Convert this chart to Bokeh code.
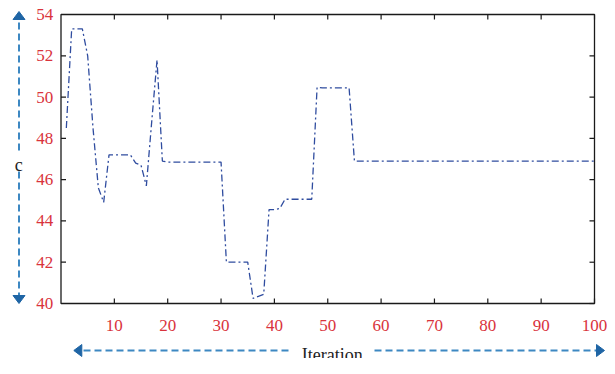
from bokeh.plotting import figure
from bokeh.models import Range1d, ColumnDataSource
from bokeh.core.properties import value
from bokeh.embed import file_html
from bokeh.resources import INLINE

# ---- data ----
iteration = list(range(1, 101))
c_values = [48.5, 53.3, 53.3, 53.3, 52.0, 48.5, 45.6, 44.9, 47.2, 47.2,
            47.2, 47.2, 47.2, 46.8, 46.7, 45.7, 48.8, 51.8, 46.9, 46.85,
            46.85, 46.85, 46.85, 46.85, 46.85, 46.85, 46.85, 46.85, 46.85, 46.85,
            42.0, 42.0, 42.0, 42.0, 42.0, 40.25, 40.35, 40.45, 44.55, 44.55,
            44.6, 45.05, 45.05, 45.05, 45.05, 45.05, 45.05, 50.47, 50.45, 50.45,
            50.45, 50.45, 50.45, 50.45] + [46.9] * 46
x_limits = [0, 100]
y_limits = [40, 54]
x_ticks = [10, 20, 30, 40, 50, 60, 70, 80, 90, 100]
x_tick_labels = ["10", "20", "30", "40", "50", "60", "70", "80", "90", "100"]
y_ticks = [40, 42, 44, 46, 48, 50, 52, 54]
y_tick_labels = ["40", "42", "44", "46", "48", "50", "52", "54"]
x_label = "Iteration"
y_label = "c"

# ---- layout (canvas pixels, origin top-left) ----
W, H = 607, 358
FX0, FX1 = 60.5, 594.0     # frame left / right
FY1, FY0 = 14.0, 303.0     # frame top / bottom
sx = (FX1 - FX0) / (x_limits[1] - x_limits[0])
sy = (FY0 - FY1) / (y_limits[1] - y_limits[0])

def X(cx):
    return x_limits[0] + (cx - FX0) / sx

def Y(cy):
    return y_limits[0] + (FY0 - cy) / sy

RED = "#d9333c"
FONT = "Liberation Serif"
SHAFT = "#3d88c2"
HEAD = "#1f65a5"

p = figure(width=W, height=H, output_backend="svg", toolbar_location=None,
           x_range=Range1d(X(0), X(W)), y_range=Range1d(Y(H), Y(0)),
           x_axis_type=None, y_axis_type=None,
           min_border=0, min_border_left=0, min_border_right=0,
           min_border_top=0, min_border_bottom=0)
p.outline_line_color = None
p.grid.visible = False

# frame box
p.quad(left=[x_limits[0]], right=[x_limits[1]], bottom=[y_limits[0]], top=[y_limits[1]],
       fill_color=None, line_color="#1a1a1a", line_width=1.3)

# inward ticks on all four sides (5 px)
tx = 5 / sx
ty = 5 / sy
n = len(x_ticks)
p.segment(x0=x_ticks, y0=[y_limits[0]] * n, x1=x_ticks, y1=[y_limits[0] + ty] * n,
          line_color="#1a1a1a", line_width=1.2)
p.segment(x0=x_ticks, y0=[y_limits[1]] * n, x1=x_ticks, y1=[y_limits[1] - ty] * n,
          line_color="#1a1a1a", line_width=1.2)
m = len(y_ticks)
p.segment(x0=[x_limits[0]] * m, y0=y_ticks, x1=[x_limits[0] + tx] * m, y1=y_ticks,
          line_color="#1a1a1a", line_width=1.2)
p.segment(x0=[x_limits[1]] * m, y0=y_ticks, x1=[x_limits[1] - tx] * m, y1=y_ticks,
          line_color="#1a1a1a", line_width=1.2)

# tick labels
p.text(x=x_ticks, y=[Y(FY0 + 21.5)] * n, text=x_tick_labels, text_font=value(FONT),
       text_font_size=value("17px"), text_color=RED, text_align="center",
       text_baseline="alphabetic")
p.text(x=[X(FX0 - 7.8)] * m, y=y_ticks, text=y_tick_labels, text_font=value(FONT),
       text_font_size=value("17px"), text_color=RED, text_align="right",
       text_baseline="middle")

# data line
src = ColumnDataSource(dict(x=iteration, y=c_values))
p.line("x", "y", source=src, line_color="#2f4c9f", line_width=1.3, line_dash="7 3 2 3")

# dashed axis-title arrows
def dashed_arrow(cx0, cy0, cx1, cy1, head_len=8, half_w=6):
    dx, dy = cx1 - cx0, cy1 - cy0
    L = (dx * dx + dy * dy) ** 0.5
    ux, uy = dx / L, dy / L
    bx, by = cx1 - ux * head_len, cy1 - uy * head_len
    p.segment(x0=[X(cx0)], y0=[Y(cy0)], x1=[X(bx)], y1=[Y(by)],
              line_color=SHAFT, line_width=2, line_dash="7 4")
    px_, py_ = -uy, ux
    xs = [X(cx1), X(bx + px_ * half_w), X(bx - px_ * half_w)]
    ys = [Y(cy1), Y(by + py_ * half_w), Y(by - py_ * half_w)]
    p.patches(xs=[xs], ys=[ys], fill_color=HEAD, line_color=HEAD, line_width=1)

ARROW_Y = 350.0
dashed_arrow(288, ARROW_Y, 73.3, ARROW_Y)
dashed_arrow(374, ARROW_Y, 604, ARROW_Y)
dashed_arrow(18.5, 150, 18.5, 11)
dashed_arrow(18.5, 171, 18.5, FY0)

# axis titles
p.text(x=[X(331.7)], y=[Y(ARROW_Y + 4)], text=[x_label], text_font=value(FONT),
       text_font_size=value("18px"), text_color="#222222", text_align="center",
       text_baseline="alphabetic")
p.text(x=[X(18.3)], y=[Y(164.5)], text=[y_label], text_font=value(FONT),
       text_font_size=value("18px"), text_color="#222222", text_align="center",
       text_baseline="alphabetic")

open("out.html", "w").write(file_html(p, INLINE))
